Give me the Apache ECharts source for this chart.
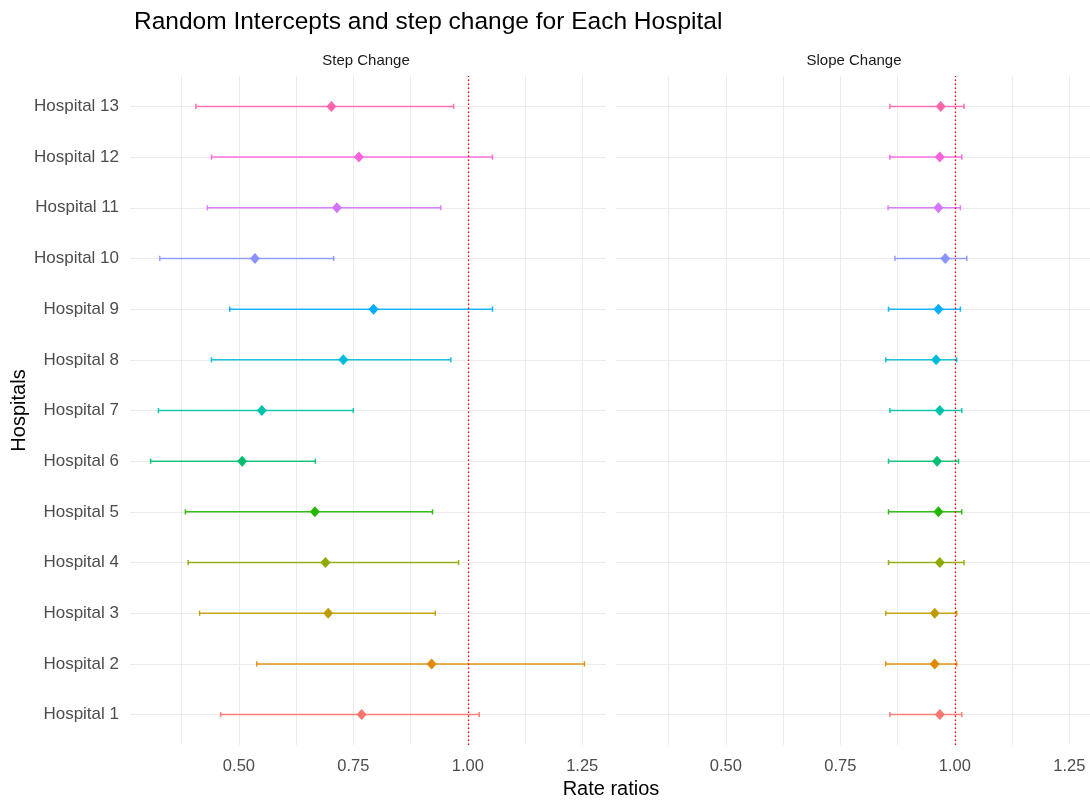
<!DOCTYPE html>
<html><head><meta charset="utf-8">
<script src="https://cdn.jsdelivr.net/npm/echarts@6/dist/echarts.min.js"></script>
<style>html,body{margin:0;padding:0;background:#fff}#c{width:1090px;height:801px}</style>
</head><body><div id="c"></div>
<script>
// ---- data ----
const hospitals = ['Hospital 1','Hospital 2','Hospital 3','Hospital 4','Hospital 5','Hospital 6','Hospital 7','Hospital 8','Hospital 9','Hospital 10','Hospital 11','Hospital 12','Hospital 13'];
const hospitalColors = ['#F8766D','#E18A00','#BE9C00','#8CAB00','#24B700','#00BE70','#00C1AB','#00BBDA','#00ACFC','#8B93FF','#D575FE','#F962DD','#FF65AC'];
const stepEst  = [0.768,0.921,0.695,0.689,0.666,0.507,0.550,0.728,0.794,0.535,0.714,0.762,0.702];
const stepLow  = [0.460,0.539,0.414,0.389,0.383,0.307,0.324,0.440,0.480,0.327,0.431,0.440,0.406];
const stepHigh = [1.025,1.255,0.929,0.980,0.923,0.667,0.750,0.963,1.054,0.707,0.941,1.054,0.969];
const slopeEst  = [0.967,0.956,0.956,0.967,0.964,0.961,0.967,0.959,0.964,0.979,0.964,0.967,0.969];
const slopeLow  = [0.858,0.849,0.849,0.855,0.855,0.855,0.858,0.849,0.855,0.869,0.854,0.858,0.858];
const slopeHigh = [1.015,1.004,1.004,1.020,1.015,1.008,1.015,1.004,1.012,1.026,1.012,1.015,1.020];
const xTickLabels = [0.5,0.75,1.0,1.25];
const xGridValues = [0.375,0.5,0.625,0.75,0.875,1.0,1.125,1.25];
const panelTitles = ['Step Change','Slope Change'];
const refValue = 1;
const mainTitle = 'Random Intercepts and step change for Each Hospital';
const xTitle = 'Rate ratios';
const yTitle = 'Hospitals';

// ---- layout ----
const FONT = '"Liberation Sans", Arial, sans-serif';
const GRID_TOP = 76, GRID_H = 669;
const PANELS = [
  {left: 130, width: 476, min: 0.262, max: 1.302},
  {left: 616, width: 474, min: 0.260, max: 1.295}
];
const yPos = hospitals.map((h, i) => i + 1);

const chart = echarts.init(document.getElementById('c'), null, {renderer: 'canvas'});

function makeXAxis(gi) {
  return {
    type: 'value', gridIndex: gi, min: PANELS[gi].min, max: PANELS[gi].max,
    axisLine: {show: false}, axisTick: {show: false, customValues: xGridValues},
    splitLine: {show: true, lineStyle: {color: '#ebebeb', width: 1}},
    axisLabel: {customValues: xTickLabels, color: '#4d4d4d', fontSize: 16.5, fontFamily: FONT, margin: 13,
      formatter: v => v.toFixed(2)}
  };
}
function makeYAxis(gi) {
  return {
    type: 'value', gridIndex: gi, min: 0.4, max: 13.6,
    axisLine: {show: false}, axisTick: {show: false, customValues: yPos},
    splitLine: {show: true, lineStyle: {color: '#ebebeb', width: 1}},
    axisLabel: {show: gi === 0, customValues: yPos, color: '#4d4d4d', fontSize: 17, fontFamily: FONT, margin: 11,
      padding: [3, 0, 0, 0],
      formatter: v => hospitals[Math.round(v) - 1]},
    name: gi === 0 ? yTitle : '', nameLocation: 'middle', nameRotate: 90, nameGap: 101,
    nameTextStyle: {color: '#000', fontSize: 20, fontFamily: FONT}
  };
}

function renderBar(params, api) {
  const lo = api.value(0), y = api.value(1), hi = api.value(2);
  const p1 = api.coord([lo, y]);
  const p2 = api.coord([hi, y]);
  const c = hospitalColors[params.dataIndex];
  const h = 2.6;
  const style = {stroke: c, lineWidth: 1.5, opacity: 0.9};
  return {type: 'group', children: [
    {type: 'line', shape: {x1: p1[0], y1: p1[1], x2: p2[0], y2: p2[1]}, style},
    {type: 'line', shape: {x1: p1[0], y1: p1[1] - h, x2: p1[0], y2: p1[1] + h}, style},
    {type: 'line', shape: {x1: p2[0], y1: p2[1] - h, x2: p2[0], y2: p2[1] + h}, style}
  ]};
}

function panelSeries(gi, est, low, high) {
  return [
    {
      type: 'custom', xAxisIndex: gi, yAxisIndex: gi, renderItem: renderBar,
      encode: {x: [0, 2], y: 1},
      data: hospitals.map((h, i) => [low[i], yPos[i], high[i]]),
      markLine: {
        silent: true, symbol: 'none', label: {show: false},
        lineStyle: {color: '#ff0000', type: [1.5, 2.5], width: 1.3},
        data: [{xAxis: refValue}]
      },
      z: 3
    },
    {
      type: 'scatter', xAxisIndex: gi, yAxisIndex: gi, symbol: 'diamond', symbolSize: [10, 11],
      data: hospitals.map((h, i) => ({value: [est[i], yPos[i]], itemStyle: {color: hospitalColors[i], opacity: 1}})),
      z: 4
    }
  ];
}

const option = {
  backgroundColor: '#fff',
  animation: false,
  textStyle: {fontFamily: FONT},
  title: [{
    text: mainTitle, left: 129, top: 5,
    textStyle: {color: '#000', fontSize: 24.5, fontWeight: 'normal', fontFamily: FONT}
  }],
  graphic: [
    {type: 'text', x: PANELS[0].left + PANELS[0].width / 2 - 2, y: 61, style: {text: panelTitles[0], fill: '#1a1a1a', font: '15px ' + FONT, textAlign: 'center', textVerticalAlign: 'middle'}},
    {type: 'text', x: PANELS[1].left + 476 / 2, y: 61, style: {text: panelTitles[1], fill: '#1a1a1a', font: '15px ' + FONT, textAlign: 'center', textVerticalAlign: 'middle'}},
    {type: 'text', x: 611, y: 789, style: {text: xTitle, fill: '#000', font: '20px ' + FONT, textAlign: 'center', textVerticalAlign: 'middle'}}
  ],
  grid: PANELS.map(p => ({left: p.left, top: GRID_TOP, width: p.width, height: GRID_H})),
  xAxis: [makeXAxis(0), makeXAxis(1)],
  yAxis: [makeYAxis(0), makeYAxis(1)],
  series: [
    ...panelSeries(0, stepEst, stepLow, stepHigh),
    ...panelSeries(1, slopeEst, slopeLow, slopeHigh)
  ]
};
chart.setOption(option);
</script>
</body></html>
